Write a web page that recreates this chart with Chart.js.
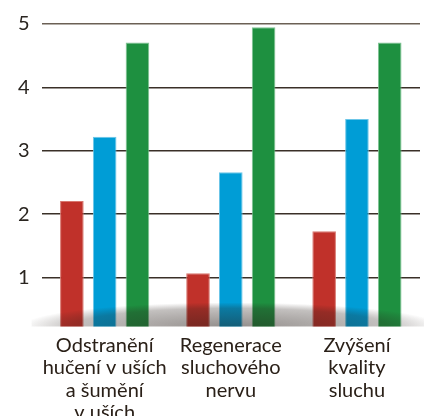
<!DOCTYPE html>
<html>
<head>
<meta charset="utf-8">
<script src="https://cdn.jsdelivr.net/npm/chart.js@4"></script>
<style>
  html, body { margin: 0; padding: 0; background: #fff; overflow: hidden; }
  #wrap { width: 424px; height: 432px; }
</style>
</head>
<body>
<div id="wrap"><canvas id="chart"></canvas></div>
<script>
var categories = [
  ["Odstranění", "hučení v uších", "a šumění", "v uších"],
  ["Regenerace", "sluchového", "nervu"],
  ["Zvýšení", "kvality", "sluchu"]
];
var redValues = [2.21, 1.07, 1.73];
var blueValues = [3.22, 2.66, 3.50];
var greenValues = [4.71, 4.95, 4.71];
var yTicks = [1, 2, 3, 4, 5];

// soft grey shadow across the bottom of the bars
var floorShadow = {
  id: "floorShadow",
  afterDatasetsDraw: function(chart) {
    var ctx = chart.ctx, a = chart.chartArea;
    var cx = (a.left + a.right) / 2;
    var rx = (a.right - a.left) / 2 + 20;
    ctx.save();
    ctx.beginPath();
    ctx.rect(a.left - 10, a.bottom - 26, a.right - a.left + 20, 26);
    ctx.clip();
    ctx.translate(cx, a.bottom);
    ctx.scale(1, 24 / rx);
    var g = ctx.createRadialGradient(0, 0, 0, 0, 0, rx);
    g.addColorStop(0, "rgba(40,30,25,0.5)");
    g.addColorStop(0.75, "rgba(40,30,25,0.28)");
    g.addColorStop(1, "rgba(40,30,25,0)");
    ctx.fillStyle = g;
    ctx.beginPath();
    ctx.arc(0, 0, rx, 0, Math.PI * 2);
    ctx.fill();
    ctx.restore();
  }
};

new Chart(document.getElementById("chart"), {
  type: "bar",
  data: {
    labels: categories,
    datasets: [
      { data: redValues, backgroundColor: "#c0312a", borderColor: "#d8776f", borderWidth: 1 },
      { data: blueValues, backgroundColor: "#009dd6", borderColor: "#6cc6e8", borderWidth: 1 },
      { data: greenValues, backgroundColor: "#1e9040", borderColor: "#7fc493", borderWidth: 1 }
    ]
  },
  options: {
    responsive: true,
    maintainAspectRatio: false,
    animation: false,
    layout: { padding: { top: 0, right: 4, left: 6, bottom: 0 } },
    datasets: { bar: { categoryPercentage: 0.78, barPercentage: 0.72 } },
    plugins: { legend: { display: false }, tooltip: { enabled: false } },
    scales: {
      x: {
        grid: { display: false, drawTicks: false },
        border: { display: false },
        ticks: {
          color: "#2a2018",
          font: { family: "Lato", size: 20, lineHeight: 1.12 },
          padding: 8,
          maxRotation: 0,
          autoSkip: false
        }
      },
      y: {
        min: 0.23,
        max: 5,
        afterBuildTicks: function(axis) {
          axis.ticks = yTicks.map(function(v) { return { value: v }; });
        },
        grid: {
          drawTicks: false,
          lineWidth: 1.6,
          color: function(c) { return c.tick && c.tick.value === 5 ? "#6b6055" : "#3a3028"; }
        },
        border: { display: false },
        ticks: {
          color: "#2a2520",
          font: { family: "Lato", size: 20 },
          padding: 12
        }
      }
    }
  },
  plugins: [floorShadow]
});
</script>
</body>
</html>
